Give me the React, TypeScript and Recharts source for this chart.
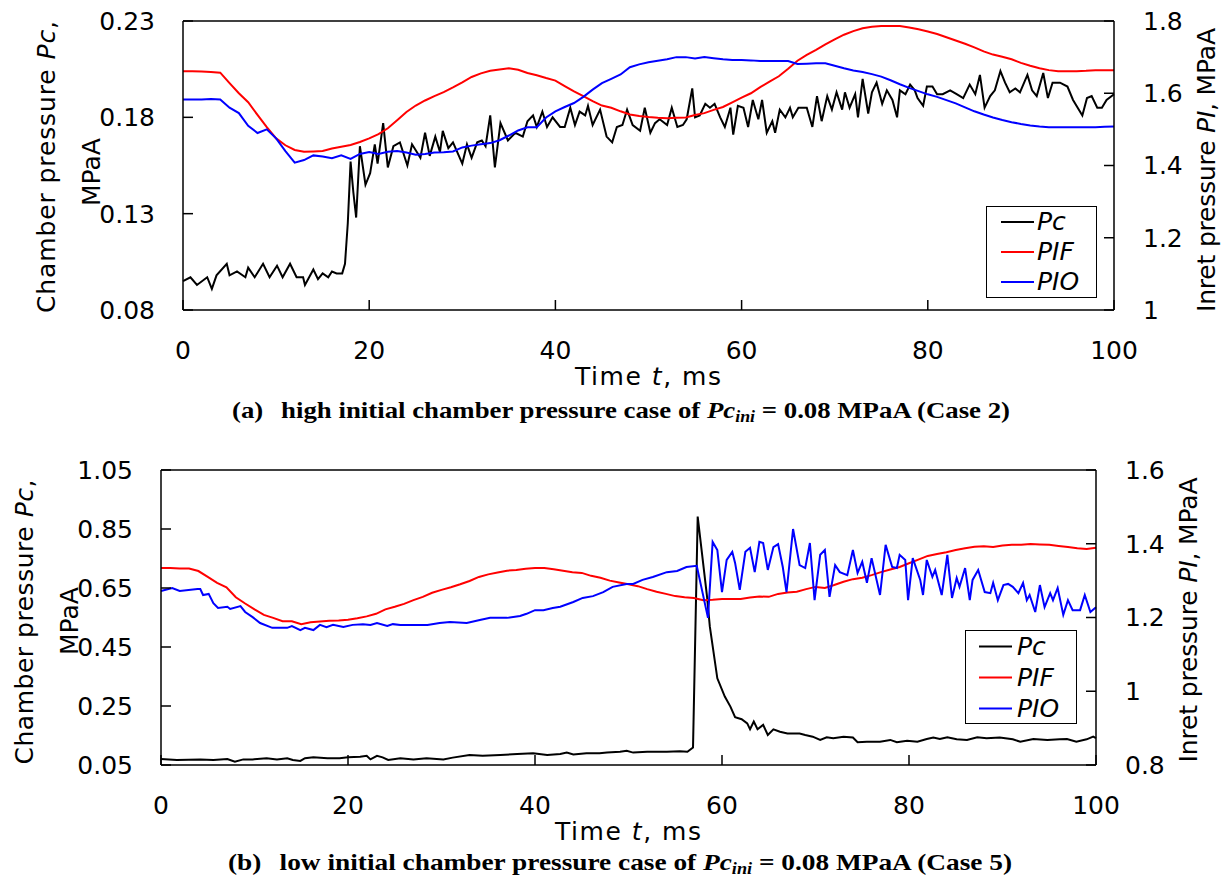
import { LineChart, Line, XAxis, YAxis, ReferenceLine, Legend } from 'recharts'

// time grid (ms) shared by the smooth inlet-pressure traces
const msGrid = Array.from({ length: 101 }, (_, i) => i)
const xTicks = [0, 20, 40, 60, 80, 100]

// ---------- (a) Case 2 ----------
const topPcTicks = [0.08, 0.13, 0.18, 0.23]
const topPlTicks = [1, 1.2, 1.4, 1.6, 1.8]

const topPIF = [
  1.661, 1.661, 1.66, 1.659, 1.657, 1.628, 1.6, 1.575, 1.54, 1.506,
  1.475, 1.456, 1.443, 1.438, 1.439, 1.44, 1.447, 1.452, 1.457, 1.465,
  1.475, 1.487, 1.503, 1.525, 1.548, 1.566, 1.58, 1.592, 1.603, 1.616,
  1.63, 1.645, 1.655, 1.662, 1.666, 1.669, 1.665, 1.656, 1.65, 1.642,
  1.635, 1.62, 1.605, 1.592, 1.578, 1.566, 1.56, 1.55, 1.541, 1.537,
  1.534, 1.532, 1.531, 1.532, 1.533, 1.54, 1.545, 1.554, 1.562, 1.575,
  1.588, 1.6, 1.617, 1.632, 1.647, 1.668, 1.69, 1.706, 1.72, 1.735,
  1.749, 1.762, 1.772, 1.78, 1.784, 1.786, 1.786, 1.786, 1.782, 1.777,
  1.771, 1.764, 1.755, 1.746, 1.737, 1.727, 1.716, 1.707, 1.701, 1.694,
  1.684, 1.676, 1.669, 1.664, 1.661, 1.661, 1.661, 1.662, 1.664, 1.664,
  1.664,
]

const topPIO = [
  1.583, 1.583, 1.583, 1.584, 1.583, 1.56, 1.545, 1.51, 1.49, 1.5,
  1.475, 1.44, 1.408, 1.415, 1.428, 1.425, 1.42, 1.428, 1.418, 1.432,
  1.437, 1.432, 1.438, 1.44, 1.436, 1.43, 1.432, 1.436, 1.437, 1.439,
  1.45, 1.455, 1.459, 1.462, 1.47, 1.483, 1.497, 1.506, 1.506, 1.533,
  1.55, 1.562, 1.573, 1.59, 1.61, 1.628, 1.64, 1.652, 1.672, 1.68,
  1.686, 1.69, 1.694, 1.7, 1.7, 1.696, 1.7, 1.697, 1.694, 1.692,
  1.692, 1.691, 1.689, 1.689, 1.689, 1.689, 1.681, 1.682, 1.683, 1.683,
  1.676, 1.669, 1.663, 1.659, 1.653, 1.646, 1.636, 1.625, 1.615, 1.606,
  1.597, 1.59, 1.581, 1.572, 1.561, 1.55, 1.541, 1.533, 1.526, 1.52,
  1.515, 1.511, 1.508, 1.506, 1.506, 1.506, 1.506, 1.506, 1.506, 1.507,
  1.508,
]

const topPcT = [
  0, 0.8, 1.5, 2.6, 3.1, 3.6, 4.7, 5.0, 5.8, 6.7,
  7.0, 7.7, 8.6, 9.3, 10.1, 10.7, 11.5, 12.2, 12.9, 13.1,
  14.0, 14.5, 15.0, 15.6, 16.0, 16.5, 17.1, 17.4, 17.7, 18.0,
  18.3, 18.6, 19.0, 19.6, 20.1, 20.6, 20.9, 21.5, 22.0, 22.6,
  23.3, 24.1, 24.6, 25.5, 26.0, 26.5, 27.1, 27.6, 27.9, 28.5,
  29.0, 30.0, 30.5, 31.0, 31.6, 32.1, 32.5, 33.0, 33.5, 34.1,
  34.9, 35.7, 36.5, 37.0, 37.6, 38.0, 38.6, 39.1, 39.7, 40.5,
  41.0, 41.6, 42.1, 42.6, 43.2, 43.5, 44.0, 44.8, 45.5, 46.1,
  46.6, 47.2, 47.7, 48.3, 49.1, 49.6, 50.2, 50.7, 51.2, 52.0,
  52.5, 53.1, 53.7, 54.1, 54.7, 55.0, 55.5, 56.1, 56.6, 57.1,
  57.7, 58.2, 58.8, 59.1, 59.6, 60.2, 60.7, 61.2, 61.8, 62.2,
  62.7, 63.3, 63.6, 64.1, 64.7, 65.2, 65.5, 66.1,
  67.0, 67.6, 68.1, 68.6, 69.2, 69.7, 70.2, 70.8, 71.1, 71.6,
  72.2, 72.5, 73.0, 73.6, 74.0, 74.5, 75.1, 75.6, 76.2, 76.7,
  77.0, 77.6, 78.1, 78.6, 78.9, 79.5, 79.9, 80.5, 81.0, 81.6,
  82.4, 83.1, 83.8, 84.5, 85.1, 85.6, 86.1, 86.7, 87.2, 87.8,
  88.3, 88.8, 89.4, 89.9, 90.7, 91.2, 91.7, 92.4, 92.9, 93.4,
  94.2, 95.0, 95.6, 96.6, 97.1, 97.6, 98.2, 98.7, 99.2, 100,
]

const topPcV = [
  0.095, 0.097, 0.093, 0.097, 0.091, 0.098, 0.104, 0.098, 0.1, 0.097,
  0.102, 0.097, 0.104, 0.097, 0.103, 0.097, 0.104, 0.097, 0.097, 0.093,
  0.101, 0.096, 0.099, 0.097, 0.1, 0.099, 0.099, 0.104, 0.125, 0.157,
  0.141, 0.128, 0.165, 0.145, 0.151, 0.166, 0.156, 0.177, 0.154, 0.165,
  0.167, 0.155, 0.166, 0.159, 0.172, 0.16, 0.17, 0.162, 0.173, 0.164,
  0.167, 0.156, 0.166, 0.159, 0.167, 0.168, 0.165, 0.181, 0.154, 0.177,
  0.168, 0.172, 0.17, 0.178, 0.181, 0.175, 0.183, 0.175, 0.18, 0.175,
  0.175, 0.185, 0.176, 0.183, 0.181, 0.186, 0.176, 0.184, 0.17, 0.167,
  0.175, 0.176, 0.184, 0.176, 0.173, 0.185, 0.172, 0.177, 0.179, 0.176,
  0.185, 0.175, 0.176, 0.179, 0.195, 0.18, 0.181, 0.187, 0.185, 0.187,
  0.18, 0.175, 0.185, 0.171, 0.186, 0.185, 0.175, 0.189, 0.179, 0.189,
  0.172, 0.178, 0.172, 0.184, 0.18, 0.185, 0.18, 0.185,
  0.185, 0.175, 0.191, 0.178, 0.191, 0.184, 0.193, 0.184, 0.193, 0.185,
  0.192, 0.18, 0.2, 0.182, 0.193, 0.198, 0.187, 0.194, 0.189, 0.18,
  0.194, 0.192, 0.197, 0.194, 0.19, 0.186, 0.196, 0.196, 0.192, 0.192,
  0.194, 0.192, 0.19, 0.197, 0.192, 0.202, 0.185, 0.191, 0.194, 0.204,
  0.198, 0.193, 0.195, 0.193, 0.202, 0.194, 0.191, 0.203, 0.19, 0.198,
  0.198, 0.196, 0.189, 0.181, 0.19, 0.191, 0.185, 0.185, 0.189, 0.192,
]

// ---------- (b) Case 5 ----------
const botPcTicks = [0.05, 0.25, 0.45, 0.65, 0.85, 1.05]
const botPlTicks = [0.8, 1, 1.2, 1.4, 1.6]

const botPIF = [
  1.334, 1.334, 1.333, 1.333, 1.326, 1.31, 1.294, 1.282, 1.255, 1.238,
  1.222, 1.207, 1.199, 1.19, 1.19, 1.182, 1.187, 1.189, 1.191, 1.192,
  1.194, 1.198, 1.203, 1.21, 1.222, 1.229, 1.237, 1.247, 1.256, 1.267,
  1.275, 1.282, 1.29, 1.299, 1.31, 1.317, 1.322, 1.327, 1.329, 1.332,
  1.334, 1.334, 1.331, 1.327, 1.323, 1.321, 1.313, 1.308, 1.3, 1.295,
  1.29, 1.285, 1.277, 1.27, 1.264, 1.258, 1.255, 1.253, 1.247, 1.248,
  1.25, 1.25, 1.25, 1.254, 1.257, 1.256, 1.264, 1.268, 1.27, 1.277,
  1.283, 1.28, 1.288, 1.297, 1.304, 1.308, 1.315, 1.323, 1.33, 1.337,
  1.347, 1.357, 1.367, 1.372, 1.377, 1.383, 1.388, 1.392, 1.393, 1.391,
  1.395, 1.397, 1.397, 1.399, 1.398, 1.397, 1.394, 1.391, 1.388, 1.386,
  1.389,
]

const botPIOT = [
  0, 1.2, 2.0, 3.9, 4.2, 4.5, 5.1, 5.6, 6.1, 7.1,
  7.4, 8.5, 9.0, 9.8, 10.6, 11.9, 12.7, 13.5, 14.0, 14.9,
  15.4, 16.3, 17.0, 17.7, 18.4, 19.5, 20.5, 21.6, 22.4, 23.1,
  24.2, 24.8,
  25.6, 28.5, 29.8, 30.9, 32.7, 34.1, 35.2, 37.0, 38.4, 39.1,
  40.0, 40.9, 41.9, 42.7, 44.1, 45.1, 46.2, 47.3, 48.3, 49.8,
  50.5, 51.5, 52.6, 54.1, 55.2, 56.2, 57.3, 58.5, 59.0, 59.5,
  60.0, 60.5, 61.1, 61.4, 61.9, 62.5, 63.0, 63.5, 64.0, 64.4,
  64.9, 65.5, 66.0, 66.5, 66.9, 67.6,
  68.3, 68.9, 69.4, 69.9, 70.5, 71.0, 71.5, 72.1, 72.6, 73.4,
  74.0, 74.5, 75.0, 75.5, 76.0, 76.9, 77.5, 78.2, 78.7, 79.0,
  79.6, 79.9, 80.4, 81.2, 81.5, 81.9, 82.5, 82.8, 83.5, 84.1,
  84.6, 85.1, 85.4, 86.0, 86.5, 86.8, 87.4, 88.1, 88.7, 89.0,
  89.5, 90.1, 90.6, 91.1, 91.7, 92.2, 92.6, 92.9, 93.5, 94.0,
  94.5, 95.1, 95.4, 95.9, 96.5, 97.0, 97.5, 98.3, 98.8, 99.4,
  100,
]

const botPIOV = [
  1.272, 1.28, 1.272, 1.277, 1.277, 1.261, 1.264, 1.239, 1.226, 1.229,
  1.223, 1.231, 1.215, 1.201, 1.185, 1.172, 1.172, 1.172, 1.177, 1.166,
  1.172, 1.166, 1.18, 1.174, 1.18, 1.174, 1.18, 1.182, 1.18, 1.185,
  1.177, 1.182,
  1.18, 1.18, 1.185, 1.188, 1.185, 1.193, 1.199, 1.199, 1.204, 1.21,
  1.22, 1.22, 1.226, 1.229, 1.242, 1.253, 1.258, 1.269, 1.283, 1.291,
  1.291, 1.302, 1.31, 1.323, 1.326, 1.337, 1.34, 1.199, 1.405, 1.383,
  1.269, 1.356, 1.378, 1.348, 1.275, 1.378, 1.389, 1.323, 1.405, 1.402,
  1.329, 1.391, 1.399, 1.337, 1.269, 1.44,
  1.342, 1.334, 1.402, 1.247, 1.37, 1.383, 1.256, 1.342, 1.323, 1.315,
  1.383, 1.321, 1.351, 1.294, 1.361, 1.261, 1.397, 1.337, 1.334, 1.37,
  1.356, 1.247, 1.361, 1.302, 1.261, 1.356, 1.31, 1.329, 1.261, 1.37,
  1.253, 1.307, 1.283, 1.334, 1.247, 1.302, 1.329, 1.269, 1.266, 1.294,
  1.247, 1.288, 1.291, 1.283, 1.266, 1.294, 1.247, 1.261, 1.215, 1.288,
  1.228, 1.266, 1.247, 1.28, 1.207, 1.247, 1.22, 1.22, 1.261, 1.215,
  1.228,
]

const botPcT = [
  0, 1.7, 4.2, 5.6, 7.1, 7.9, 8.8, 9.8, 11.3, 12.4,
  13.5, 14.1, 14.9, 15.4, 16.3, 17.8, 19.1, 20.0, 21.3, 22.0,
  22.4, 23.1, 23.7, 24.3,
  25.6, 27.0, 28.4, 30.2, 31.2, 33.0, 34.4, 36.3, 38.1, 39.8,
  41.3, 42.7, 43.4, 44.1, 45.5, 46.9, 47.7, 49.1, 49.8, 50.5,
  52.0, 54.1, 55.5, 56.3, 56.9, 57.4, 58.4, 58.7, 59.5, 60.3,
  60.9, 61.4, 62.1, 62.7, 63.0, 63.4, 63.8, 64.4, 64.9, 65.5,
  66.2, 67.0, 67.8,
  68.3, 68.9, 69.7, 70.5, 71.2, 71.9, 73.0, 74.0, 74.5, 75.5,
  76.9, 78.0, 78.7, 79.8, 80.9, 81.9, 82.6, 83.3, 84.1, 85.1,
  86.2, 87.3, 88.3, 89.7, 91.1, 91.9, 93.3, 94.8, 96.1, 96.9,
  97.9, 99.0, 99.7, 100,
]

const botPcV = [
  0.07, 0.067, 0.069, 0.067, 0.07, 0.061, 0.069, 0.069, 0.073, 0.069,
  0.073, 0.067, 0.064, 0.073, 0.076, 0.073, 0.073, 0.076, 0.078, 0.081,
  0.069, 0.081, 0.076, 0.067,
  0.073, 0.069, 0.073, 0.069, 0.075, 0.084, 0.081, 0.084, 0.087, 0.09,
  0.084, 0.087, 0.092, 0.086, 0.09, 0.09, 0.092, 0.095, 0.098, 0.092,
  0.095, 0.095, 0.097, 0.095, 0.109, 0.892, 0.621, 0.519, 0.344, 0.282,
  0.248, 0.212, 0.205, 0.191, 0.171, 0.197, 0.171, 0.186, 0.152, 0.171,
  0.163, 0.157, 0.157,
  0.157, 0.152, 0.146, 0.135, 0.144, 0.141, 0.146, 0.143, 0.127, 0.129,
  0.129, 0.135, 0.127, 0.132, 0.129, 0.138, 0.143, 0.138, 0.144, 0.137,
  0.135, 0.144, 0.141, 0.143, 0.137, 0.129, 0.138, 0.135, 0.137, 0.138,
  0.129, 0.137, 0.146, 0.141,
]

const seriesNames = ['Pc', 'PIF', 'PIO']
const seriesColors = ['#000000', '#ff0000', '#0000ff']

const pts = (t: number[], v: number[]) => t.map((x, i) => ({ t: x, v: v[i] }))

const FONT = 'DejaVu Sans'
const tickStyle = { fill: '#000', fontSize: 25, fontFamily: FONT }

function LegendBox({ rowH, lineX, lineW, textX }: { rowH: number; lineX: number; lineW: number; textX: number }) {
  return (
    <div style={{ width: '100%', height: '100%', boxSizing: 'border-box', border: '1.5px solid #000', background: '#fff' }}>
      {seriesNames.map((name, i) => (
        <div key={name} style={{ position: 'relative', height: rowH }}>
          <svg width={lineW + 2} height={rowH} style={{ position: 'absolute', left: lineX, top: 0 }}>
            <line x1={0} x2={lineW} y1={rowH / 2} y2={rowH / 2} stroke={seriesColors[i]} strokeWidth={2} />
          </svg>
          <span
            style={{
              position: 'absolute',
              left: textX,
              top: 0,
              lineHeight: `${rowH}px`,
              fontFamily: FONT,
              fontStyle: 'italic',
              fontSize: 25,
              color: '#000',
            }}
          >
            {name}
          </span>
        </div>
      ))}
    </div>
  )
}

interface PanelProps {
  top: number
  plotLeft: number
  plotRight: number
  marginTop: number
  xHeight: number
  pcDomain: number[]
  pcTicks: number[]
  plDomain: number[]
  plTicks: number[]
  pc: { t: number; v: number }[]
  pif: { t: number; v: number }[]
  pio: { t: number; v: number }[]
  legendPos: { left: number; top: number; width: number; height: number }
  legendRow: number
  legendLine: number
  legendText: number
}

function Panel(p: PanelProps) {
  return (
    <div style={{ position: 'absolute', left: 0, top: p.top }}>
      <LineChart width={1224} height={440} margin={{ top: p.marginTop, right: 0, bottom: 0, left: 0 }}>
        <XAxis
          type="number"
          dataKey="t"
          domain={[0, 100]}
          ticks={xTicks}
          interval={0}
          height={p.xHeight}
          stroke="#000"
          strokeWidth={1.5}
          tickSize={-10}
          tickMargin={41}
          tick={tickStyle}
        />
        <YAxis
          yAxisId="pc"
          orientation="left"
          width={p.plotLeft}
          domain={p.pcDomain}
          ticks={p.pcTicks}
          interval={0}
          allowDataOverflow
          stroke="#000"
          strokeWidth={1.5}
          tickSize={-10}
          tickMargin={38}
          tick={tickStyle}
        />
        <YAxis
          yAxisId="pl"
          orientation="right"
          width={1224 - p.plotRight}
          domain={p.plDomain}
          ticks={p.plTicks}
          interval={0}
          allowDataOverflow
          stroke="#000"
          strokeWidth={1.5}
          tickSize={-10}
          tickMargin={39}
          tick={tickStyle}
        />
        <ReferenceLine yAxisId="pc" y={p.pcDomain[1]} stroke="#000" strokeWidth={1.5} />
        <Line yAxisId="pc" data={p.pc} dataKey="v" name="Pc" type="linear" stroke={seriesColors[0]} strokeWidth={2} dot={false} isAnimationActive={false} />
        <Line yAxisId="pl" data={p.pif} dataKey="v" name="PIF" type="linear" stroke={seriesColors[1]} strokeWidth={2} dot={false} isAnimationActive={false} />
        <Line yAxisId="pl" data={p.pio} dataKey="v" name="PIO" type="linear" stroke={seriesColors[2]} strokeWidth={2} dot={false} isAnimationActive={false} />
        <Legend
          layout="vertical"
          align="center"
          verticalAlign="middle"
          wrapperStyle={{ ...p.legendPos }}
          content={() => <LegendBox rowH={p.legendRow} lineX={p.legendLine} lineW={33} textX={p.legendText} />}
        />
      </LineChart>
    </div>
  )
}

export default function App() {
  return (
    <div style={{ position: 'absolute', left: 0, top: 0, width: 1224, height: 880, background: '#fff', overflow: 'hidden' }}>
      <Panel
        top={0}
        plotLeft={183}
        plotRight={1114}
        marginTop={21}
        xHeight={130}
        pcDomain={[0.08, 0.23]}
        pcTicks={topPcTicks}
        plDomain={[1, 1.8]}
        plTicks={topPlTicks}
        pc={pts(topPcT, topPcV)}
        pif={pts(msGrid, topPIF)}
        pio={pts(msGrid, topPIO)}
        legendPos={{ left: 986, top: 206, width: 111, height: 92 }}
        legendRow={30}
        legendLine={14}
        legendText={50}
      />
      <Panel
        top={440}
        plotLeft={161}
        plotRight={1096}
        marginTop={30}
        xHeight={115}
        pcDomain={[0.05, 1.05]}
        pcTicks={botPcTicks}
        plDomain={[0.8, 1.6]}
        plTicks={botPlTicks}
        pc={pts(botPcT, botPcV)}
        pif={pts(msGrid, botPIF)}
        pio={pts(botPIOT, botPIOV)}
        legendPos={{ left: 965, top: 190, width: 112, height: 94 }}
        legendRow={31}
        legendLine={13}
        legendText={51}
      />
      <svg
        width={1224}
        height={880}
        style={{ position: 'absolute', left: 0, top: 0, pointerEvents: 'none' }}
        fontFamily={FONT}
        fontSize={25}
        fill="#000"
      >
        {/* panel (a) titles */}
        <text transform="translate(55,167) rotate(-90)" textAnchor="middle" textLength={292} lengthAdjust="spacing">
          Chamber pressure <tspan fontStyle="italic">Pc</tspan>,
        </text>
        <text transform="translate(100,172) rotate(-90)" textAnchor="middle">MPaA</text>
        <text transform="translate(1215,170) rotate(-90)" textAnchor="middle" textLength={284} lengthAdjust="spacing">
          Inret pressure <tspan fontStyle="italic">PI</tspan>, MPaA
        </text>
        <text x={648} y={385} textAnchor="middle" textLength={146} lengthAdjust="spacing">
          Time <tspan fontStyle="italic">t</tspan>, ms
        </text>
        <text
          x={621}
          y={418}
          textAnchor="middle"
          fontFamily="Liberation Serif"
          fontWeight="bold"
          fontSize={24}
          textLength={778}
          lengthAdjust="spacingAndGlyphs"
        >
          (a)<tspan dx={16}>high initial chamber pressure case of </tspan>
          <tspan fontStyle="italic">Pc</tspan>
          <tspan fontStyle="italic" fontSize={16} dy={4}>ini</tspan>
          <tspan dy={-4}> = 0.08 MPaA (Case 2)</tspan>
        </text>

        {/* panel (b) titles */}
        <text transform="translate(33,622) rotate(-90)" textAnchor="middle" textLength={285} lengthAdjust="spacing">
          Chamber pressure <tspan fontStyle="italic">Pc</tspan>,
        </text>
        <text transform="translate(78,621) rotate(-90)" textAnchor="middle">MPaA</text>
        <text transform="translate(1197,620) rotate(-90)" textAnchor="middle" textLength={285} lengthAdjust="spacing">
          Inret pressure <tspan fontStyle="italic">PI</tspan>, MPaA
        </text>
        <text x={628} y={840} textAnchor="middle" textLength={146} lengthAdjust="spacing">
          Time <tspan fontStyle="italic">t</tspan>, ms
        </text>
        <text
          x={620}
          y={870}
          textAnchor="middle"
          fontFamily="Liberation Serif"
          fontWeight="bold"
          fontSize={24}
          textLength={784}
          lengthAdjust="spacingAndGlyphs"
        >
          (b)<tspan dx={16}>low initial chamber pressure case of </tspan>
          <tspan fontStyle="italic">Pc</tspan>
          <tspan fontStyle="italic" fontSize={16} dy={4}>ini</tspan>
          <tspan dy={-4}> = 0.08 MPaA (Case 5)</tspan>
        </text>
      </svg>
    </div>
  )
}
